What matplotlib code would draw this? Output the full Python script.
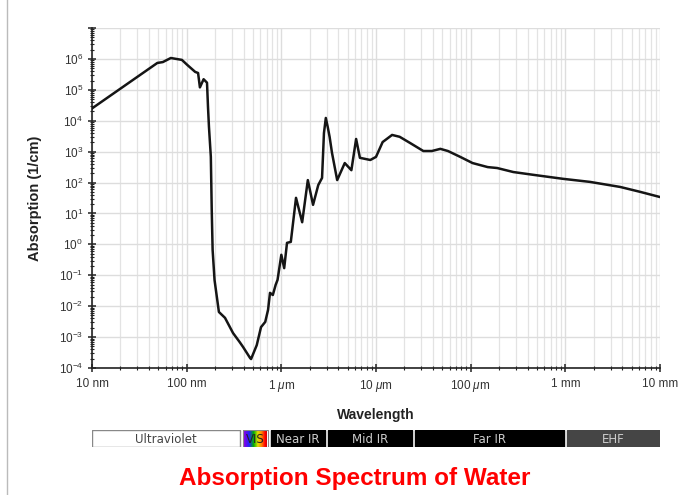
import numpy as np
import matplotlib
matplotlib.use("Agg")
import matplotlib.pyplot as plt
from matplotlib.ticker import LogLocator, FixedLocator, NullFormatter
from matplotlib.patches import Rectangle
from matplotlib.lines import Line2D
from matplotlib.colors import LinearSegmentedColormap

# wavelength (nm) and absorption coefficient (1/cm)
wavelength_nm = [10, 49, 56, 68, 89, 102, 123, 132, 138, 151, 164, 168, 172, 180, 184, 188,
                 197, 219, 254, 309, 363, 394, 468, 479, 550, 610, 676, 724, 759, 813, 871,
                 912, 1000, 1072, 1148, 1259, 1429, 1660, 1905, 2163, 2455, 2692, 2820, 2951,
                 3090, 3236, 3430, 3890, 4677, 5495, 6166, 6761, 8710, 10000, 11750, 14790,
                 17780, 22910, 31620, 38900, 47860, 57540, 77620, 104700, 151400, 190500,
                 281800, 457100, 944000, 1.82e6, 3.8e6, 6.17e6, 1e7]
absorption = [2.5e4, 7.4e5, 7.9e5, 1.07e6, 9.3e5, 6.3e5, 3.8e5, 3.5e5, 1.2e5, 2.2e5, 1.7e5,
              2.8e4, 6.3e3, 6.8e2, 13, 0.66, 0.07, 6.5e-3, 4.2e-3, 1.35e-3, 6.9e-4, 4.8e-4,
              2.1e-4, 1.95e-4, 5.5e-4, 2.1e-3, 3.1e-3, 7.6e-3, 0.027, 0.023, 0.049, 0.071,
              0.46, 0.17, 1.12, 1.2, 32, 5.2, 120, 19, 83, 141, 4000, 1.23e4, 6300, 3.0e3,
              910, 120, 427, 251, 2570, 631, 537, 676, 2040, 3470, 3020, 1905, 1047, 1047,
              1230, 1047, 676, 427, 316, 295, 219, 178, 132, 105, 72, 50, 34]

xtick_values = [10, 100, 1e3, 1e4, 1e5, 1e6, 1e7]
xtick_labels = ["10 nm", "100 nm", r"1 $\mu$m", r"10 $\mu$m", r"100 $\mu$m", "1 mm", "10 mm"]

band_names = ["Ultraviolet", "VIS", "Near IR", "Mid IR", "Far IR", "EHF"]
band_lo = [10, 380, 750, 3000, 25000, 1e6]
band_hi = [380, 750, 3000, 25000, 1e6, 1e7]
band_face = ["white", None, "black", "black", "black", "#454545"]
band_text = ["#444444", "#222222", "#cccccc", "#cccccc", "#cccccc", "#cccccc"]
vis_colors = ["#9000e0", "#2020ff", "#00b000", "#e0e000", "#ff8000", "#ff0000", "#b00000"]

plt.rcParams["font.family"] = ["Liberation Sans", "DejaVu Sans"]
plt.rcParams["mathtext.fontset"] = "custom"
plt.rcParams["mathtext.rm"] = "Liberation Sans"
plt.rcParams["mathtext.it"] = "Liberation Sans:italic"

fig = plt.figure(figsize=(7, 4.95), dpi=100)
ax = fig.add_axes([92 / 700, 1 - 368 / 495, 568 / 700, 340 / 495])

ax.plot(wavelength_nm, absorption, color="#151515", lw=1.8, solid_joinstyle="round", zorder=3)
ax.set_xscale("log")
ax.set_yscale("log")
ax.set_xlim(10, 1e7)
ax.set_ylim(1e-4, 1e7)

ax.xaxis.set_major_locator(FixedLocator(xtick_values))
ax.set_xticklabels(xtick_labels)
ax.xaxis.set_minor_locator(LogLocator(base=10, subs=np.arange(2, 10)))
ax.xaxis.set_minor_formatter(NullFormatter())
ax.yaxis.set_major_locator(FixedLocator([10.0 ** k for k in range(-4, 8)]))
ax.yaxis.set_minor_locator(LogLocator(base=10, subs=np.arange(2, 10), numticks=30))
ax.yaxis.set_minor_formatter(NullFormatter())
ylabels = [r"$10^{%d}$" % k for k in range(-4, 7)] + [""]
ax.set_yticklabels(ylabels)

ax.grid(True, which="major", color="#dddddd", lw=1.0, zorder=0)
ax.grid(True, which="minor", axis="x", color="#e3e3e3", lw=0.9, zorder=0)
ax.set_axisbelow(True)

for s in ["top", "right"]:
    ax.spines[s].set_visible(False)
for s in ["left", "bottom"]:
    ax.spines[s].set_color("#222222")
    ax.spines[s].set_linewidth(1.2)

ax.tick_params(which="major", direction="inout", length=6, width=1.1, color="#222222",
               labelsize=8.5, labelcolor="#333333")
ax.tick_params(which="minor", direction="inout", length=3.5, width=0.8, color="#222222")
ax.tick_params(axis="x", which="major", pad=4)

ax.set_ylabel("Absorption (1/cm)", fontsize=10.5, fontweight="bold", color="#222222")
ax.yaxis.set_label_coords(-0.088, 0.5)
ax.set_xlabel("Wavelength", fontsize=10, fontweight="bold", color="#222222")
ax.xaxis.set_label_coords(0.5, -0.118)

# spectral band strip
bx = fig.add_axes([92 / 700, 1 - 447 / 495, 568 / 700, 17 / 495])
bx.set_xscale("log")
bx.set_xlim(10, 1e7)
bx.set_ylim(0, 1)
bx.axis("off")
vis_cmap = LinearSegmentedColormap.from_list("vis", vis_colors)
gap = 10 ** 0.016
for i, name in enumerate(band_names):
    lo = band_lo[i] * (gap if i > 0 else 1)
    hi = band_hi[i] / (gap if i < len(band_names) - 1 else 1)
    if band_face[i] is None:
        grad = np.linspace(0, 1, 64).reshape(1, -1)
        bx.imshow(grad, cmap=vis_cmap, aspect="auto", extent=(lo, hi, 0, 1), zorder=1)
        bx.add_patch(Rectangle((lo, 0), hi - lo, 1, fill=False, ec="#888888", lw=0.8, zorder=2))
    else:
        ec = "#888888" if band_face[i] == "white" else band_face[i]
        bx.add_patch(Rectangle((lo, 0), hi - lo, 1, fc=band_face[i], ec=ec, lw=1.0, zorder=1))
    xc = np.sqrt(lo * hi)
    bx.text(xc, 0.45, name, ha="center", va="center", fontsize=8.5, color=band_text[i],
            family=["DejaVu Sans"], zorder=3)
bx.set_xlim(10, 1e7)
bx.set_ylim(0, 1)

fig.text(355 / 700, 1 - 478 / 495, "Absorption Spectrum of Water", ha="center", va="center",
         color="#ff0000", fontsize=17.5, fontweight="bold")

fig.add_artist(Line2D([7 / 700, 7 / 700], [0, 1], color="#bbbbbb", lw=1.0))

fig.savefig("out.png", dpi=100)
